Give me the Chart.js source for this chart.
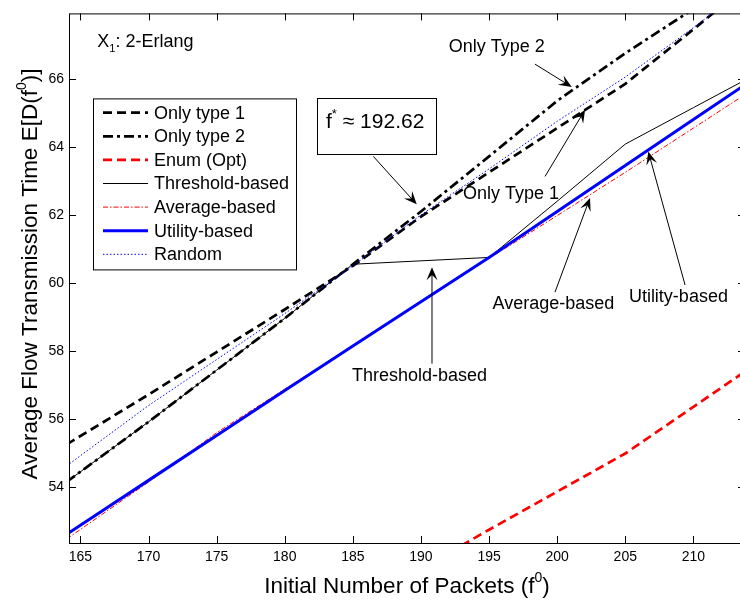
<!DOCTYPE html>
<html>
<head>
<meta charset="utf-8">
<script src="https://cdn.jsdelivr.net/npm/chart.js@4.4.0/dist/chart.umd.min.js"></script>
<style>
  html, body { margin: 0; padding: 0; background: #fff; overflow: hidden; }
  #wrap { width: 750px; height: 603px; }
</style>
</head>
<body>
<div id="wrap"><canvas id="chart" width="750" height="603"></canvas></div>
<script>
// data
const packets = [164, 170, 175, 180, 185, 190, 195, 200, 205, 210, 215];
const onlyType1 = [55.26, 56.72, 57.97, 59.22, 60.5, 61.95, 63.25, 64.55, 65.85, 67.45, 69.1];
const onlyType2 = [54.16, 55.92, 57.44, 58.96, 60.55, 62.1, 63.72, 65.35, 66.75, 68.05, 69.4];
const enumOpt = [null, null, null, null, 50.4, 51.6, 52.75, 53.87, 54.99, 56.36, 57.73];
const thresholdBased = [54.16, 55.92, 57.44, 58.96, 60.55, 60.65, 60.75, 62.4, 64.08, 65.15, 66.22];
const averageBased = [52.48, 54.15, 55.6, 56.88, 58.15, 59.45, 60.72, 61.98, 63.25, 64.55, 65.85];
const utilityBased = [52.62, 54.2, 55.52, 56.84, 58.15, 59.45, 60.75, 62.1, 63.45, 64.8, 66.15];
const randomSel = [54.63, 56.4, 57.75, 59.1, 60.5, 62.0, 63.35, 64.75, 66.05, 67.5, 69.0];

const xTicks = [165, 170, 175, 180, 185, 190, 195, 200, 205, 210];
const yTicks = [54, 56, 58, 60, 62, 64, 66];

const FONT = '"Liberation Sans", Arial, Helvetica, sans-serif';

function pts(ys) {
  return packets.map((x, i) => ({ x: x, y: ys[i] }));
}

const series = [
  { label: "Only type 1", data: onlyType1, color: "#000000", width: 2.7, dash: [9, 5] },
  { label: "Only type 2", data: onlyType2, color: "#000000", width: 2.7, dash: [10, 4, 3, 4] },
  { label: "Enum (Opt)", data: enumOpt, color: "#ff0000", width: 2.7, dash: [9, 5] },
  { label: "Threshold-based", data: thresholdBased, color: "#000000", width: 1, dash: [] },
  { label: "Average-based", data: averageBased, color: "#ff0000", width: 1, dash: [5, 2, 1.5, 2] },
  { label: "Utility-based", data: utilityBased, color: "#0000ff", width: 3, dash: [] },
  { label: "Random", data: randomSel, color: "#0000ff", width: 1, dash: [1.5, 2] },
];

// text + arrow annotations, in data units
const notes = [
  { text: "Only Type 2", x: 195.56, y: 66.92, from: [198.37, 66.43], to: [201.07, 65.76] },
  { text: "Only Type 1", x: 196.61, y: 62.60, from: [199.11, 63.13], to: [202.05, 65.09] },
  { text: "Threshold-based", x: 189.89, y: 57.28, from: [190.81, 57.63], to: [190.81, 60.46] },
  { text: "Average-based", x: 199.72, y: 59.39, from: [199.84, 59.73], to: [202.41, 62.50] },
  { text: "Utility-based", x: 208.90, y: 59.59, from: [209.39, 59.94], to: [206.69, 63.86] },
  { text: null, from: [186.50, 63.72], to: [189.69, 62.31] },
];

function font(size) {
  return size + "px " + FONT;
}

function drawRich(ctx, parts, x, y, size, align) {
  let w = 0;
  parts.forEach(p => {
    ctx.font = font(p[1] ? size * 0.62 : size);
    w += ctx.measureText(p[0]).width;
  });
  let cx = align === "center" ? x - w / 2 : x;
  ctx.textAlign = "left";
  ctx.textBaseline = "alphabetic";
  parts.forEach(p => {
    const s = p[1] ? size * 0.62 : size;
    ctx.font = font(s);
    let dy = 0;
    if (p[1] === "sup") dy = -size * 0.48;
    if (p[1] === "sub") dy = size * 0.3;
    ctx.fillText(p[0], cx, y + dy);
    cx += ctx.measureText(p[0]).width;
  });
}

function arrow(ctx, x1, y1, x2, y2) {
  const ang = Math.atan2(y2 - y1, x2 - x1);
  const len = 13, half = 5.5;
  ctx.beginPath();
  ctx.moveTo(x1, y1);
  ctx.lineTo(x2 - Math.cos(ang) * 6, y2 - Math.sin(ang) * 6);
  ctx.lineWidth = 1;
  ctx.strokeStyle = "#000";
  ctx.setLineDash([]);
  ctx.stroke();
  const bx = x2 - Math.cos(ang) * len, by = y2 - Math.sin(ang) * len;
  const nx = x2 - Math.cos(ang) * len * 0.6, ny = y2 - Math.sin(ang) * len * 0.6;
  ctx.beginPath();
  ctx.moveTo(x2, y2);
  ctx.lineTo(bx + Math.sin(ang) * half, by - Math.cos(ang) * half);
  ctx.lineTo(nx, ny);
  ctx.lineTo(bx - Math.sin(ang) * half, by + Math.cos(ang) * half);
  ctx.closePath();
  ctx.fillStyle = "#000";
  ctx.fill();
}

const decorations = {
  id: "decorations",
  afterDraw(chart) {
    const ctx = chart.ctx;
    const a = chart.chartArea;
    const xs = chart.scales.x, ys = chart.scales.y;
    ctx.save();

    // frame and inward ticks
    ctx.strokeStyle = "#000";
    ctx.lineWidth = 1;
    ctx.setLineDash([]);
    ctx.strokeRect(a.left + 0.5, a.top + 0.5, a.right - a.left, a.bottom - a.top);
    ctx.beginPath();
    xTicks.forEach(v => {
      const px = Math.round(xs.getPixelForValue(v)) + 0.5;
      ctx.moveTo(px, a.bottom); ctx.lineTo(px, a.bottom - 7);
      ctx.moveTo(px, a.top); ctx.lineTo(px, a.top + 7);
    });
    yTicks.forEach(v => {
      const py = Math.round(ys.getPixelForValue(v)) + 0.5;
      ctx.moveTo(a.left, py); ctx.lineTo(a.left + 7, py);
      ctx.moveTo(a.right, py); ctx.lineTo(a.right - 7, py);
    });
    ctx.stroke();

    // axis titles
    ctx.fillStyle = "#000";
    drawRich(ctx, [["Initial Number of Packets (f"], ["0", "sup"], [")"]], (a.left + a.right) / 2, 593, 22.5, "center");
    ctx.save();
    ctx.translate(37, 274);
    ctx.rotate(-Math.PI / 2);
    drawRich(ctx, [["Average Flow Transmission Time E[D(f"], ["0", "sup"], [")]"]], 0, 0, 22.5, "center");
    ctx.restore();

    // X1 label
    drawRich(ctx, [["X"], ["1", "sub"], [": 2-Erlang"]], xs.getPixelForValue(166.24), ys.getPixelForValue(66.94), 18, "left");

    // f* box
    const bx1 = xs.getPixelForValue(182.39), by1 = ys.getPixelForValue(65.44);
    const bx2 = xs.getPixelForValue(191.11), by2 = ys.getPixelForValue(63.78);
    ctx.fillStyle = "#fff";
    ctx.fillRect(bx1, by1, bx2 - bx1, by2 - by1);
    ctx.strokeStyle = "#000";
    ctx.lineWidth = 1;
    ctx.strokeRect(Math.round(bx1) + 0.5, Math.round(by1) + 0.5, Math.round(bx2 - bx1), Math.round(by2 - by1));
    ctx.fillStyle = "#000";
    drawRich(ctx, [["f"], ["*", "sup"], [" \u2248 192.62"]], xs.getPixelForValue(183.03), ys.getPixelForValue(64.54), 21, "left");

    // annotations
    notes.forEach(n => {
      if (n.text) {
        ctx.font = font(18);
        ctx.fillStyle = "#000";
        ctx.textAlign = "center";
        ctx.textBaseline = "middle";
        ctx.fillText(n.text, xs.getPixelForValue(n.x), ys.getPixelForValue(n.y));
      }
      arrow(ctx, xs.getPixelForValue(n.from[0]), ys.getPixelForValue(n.from[1]),
        xs.getPixelForValue(n.to[0]), ys.getPixelForValue(n.to[1]));
    });

    // legend
    const lx = a.left + 24, ly = a.top + 85, lw = 203, lh = 171;
    ctx.fillStyle = "#fff";
    ctx.fillRect(lx, ly, lw, lh);
    ctx.strokeStyle = "#000";
    ctx.lineWidth = 1;
    ctx.setLineDash([]);
    ctx.strokeRect(lx + 0.5, ly + 0.5, lw, lh);
    series.forEach((s, i) => {
      const y = ly + 14.3 + i * 23.6;
      ctx.beginPath();
      ctx.strokeStyle = s.color;
      ctx.lineWidth = s.width;
      ctx.setLineDash(s.dash);
      ctx.moveTo(lx + 10, y);
      ctx.lineTo(lx + 55, y);
      ctx.stroke();
      ctx.setLineDash([]);
      ctx.font = font(18);
      ctx.fillStyle = "#000";
      ctx.textAlign = "left";
      ctx.textBaseline = "middle";
      ctx.fillText(s.label, lx + 61, y + 1);
    });

    ctx.restore();
  }
};

const datasets = series.map((s, i) => ({
  label: s.label,
  data: pts(s.data),
  borderColor: s.color,
  borderWidth: s.width,
  borderDash: s.dash,
  pointRadius: 0,
  tension: 0,
  fill: false,
  clip: 0,
  order: series.length - i,
}));

new Chart(document.getElementById("chart"), {
  type: "line",
  data: { datasets: datasets },
  plugins: [decorations],
  options: {
    responsive: false,
    animation: false,
    layout: { padding: { top: 9, right: 5, left: 0, bottom: 0 } },
    plugins: { legend: { display: false }, tooltip: { enabled: false } },
    scales: {
      x: {
        type: "linear",
        min: 164.16,
        max: 213.79,
        afterBuildTicks: s => { s.ticks = xTicks.map(v => ({ value: v })); },
        afterFit: s => { s.height = 60; },
        grid: { display: false, drawTicks: false },
        border: { display: false },
        ticks: { color: "#000", font: { family: FONT, size: 14 }, padding: 6, maxRotation: 0 },
      },
      y: {
        type: "linear",
        min: 52.36,
        max: 67.92,
        afterBuildTicks: s => { s.ticks = yTicks.map(v => ({ value: v })); },
        afterFit: s => { s.width = 69; },
        grid: { display: false, drawTicks: false },
        border: { display: false },
        ticks: { color: "#000", font: { family: FONT, size: 14 }, padding: 5 },
      },
    },
  },
});
</script>
</body>
</html>
